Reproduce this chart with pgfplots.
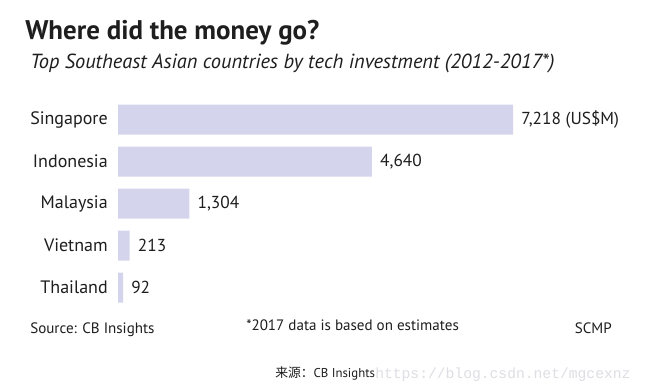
\documentclass[border=0pt]{standalone}
\usepackage{pgfplots}
\pgfplotsset{compat=1.18}
\usepackage{fontspec}
\setmainfont{PT Sans}
\newfontfamily\cjk{Noto Sans CJK SC}
\newfontfamily\wm{Liberation Mono}
\definecolor{barc}{RGB}{212,213,236}
\definecolor{txt}{RGB}{30,30,30}
\definecolor{wmc}{RGB}{222,222,228}
\begin{document}
\begin{tikzpicture}[x=0.75pt,y=-0.75pt]
\fill[white] (0,0) rectangle (645,389);
\node[anchor=base west,font=\bfseries\fontsize{20.2}{23}\selectfont,text=txt,inner sep=0] at (25,39) {Where did the money go?};
\node[anchor=base west,font=\itshape\fontsize{15.3}{18}\selectfont,text=txt,inner sep=0] at (30,68) {Top Southeast Asian countries by tech investment (2012-2017*)};
\begin{axis}[at={(88.5pt,-73.875pt)}, anchor=north west, scale only axis,
  width=296.25pt, height=157.5pt,
  xmin=0, xmax=7218, ymin=-0.5, ymax=4.5, y dir=reverse,
  xbar, bar width=22.5pt, bar shift=0pt,
  hide x axis, y axis line style={draw=none},
  ytick={0,1,2,3,4},
  yticklabels={Singapore,Indonesia,Malaysia,Vietnam,Thailand},
  major tick length=0pt,
  yticklabel style={font=\fontsize{13.5}{16}\selectfont, text=txt, inner sep=0pt, xshift=-7.5pt},
  clip=false,
  point meta=explicit symbolic,
  nodes near coords,
  nodes near coords style={anchor=west, inner sep=0pt, xshift=6pt, font=\fontsize{13}{16}\selectfont, text=txt}]
\addplot[fill=barc, draw=none] coordinates {(7218,0) [7,218 (US\$M)] (4640,1) [4,640] (1304,2) [1,304] (213,3) [213] (92,4) [92]};
\end{axis}
\node[anchor=base west,font=\fontsize{11.3}{14}\selectfont,text=txt,inner sep=0] at (30,333) {Source: CB Insights};
\node[anchor=base west,font=\fontsize{11.3}{14}\selectfont,text=txt,inner sep=0] at (246,330) {*2017 data is based on estimates};
\node[anchor=base east,font=\fontsize{11.3}{14}\selectfont,text=txt,inner sep=0] at (612,333) {SCMP};
\node[anchor=base west,font=\wm\fontsize{11}{13}\selectfont,text=wmc,inner sep=0] at (375,378) {https://blog.csdn.net/mgcexnz};
\node[anchor=base west,font=\fontsize{9.6}{11}\selectfont,text=txt,inner sep=0] at (275,377) {{\cjk 来源：}CB Insights};
\end{tikzpicture}
\end{document}
